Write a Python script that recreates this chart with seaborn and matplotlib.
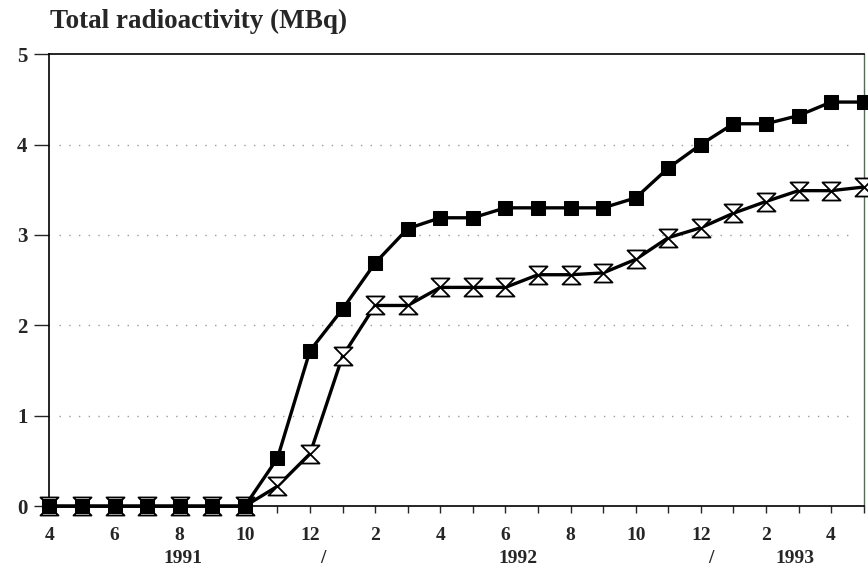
import matplotlib
matplotlib.use("Agg")
import matplotlib.pyplot as plt
import seaborn as sns
import pandas as pd
from matplotlib.path import Path

# Monthly values, April 1991 .. May 1993
months = list(range(26))
series_square = [0, 0, 0, 0, 0, 0, 0, 0.53, 1.72, 2.18, 2.69, 3.07, 3.19, 3.19,
                 3.30, 3.30, 3.30, 3.30, 3.41, 3.74, 4.00, 4.23, 4.23, 4.32, 4.47, 4.47]
series_hourglass = [0, 0, 0, 0, 0, 0, 0, 0.22, 0.58, 1.66, 2.22, 2.22, 2.42, 2.42,
                    2.42, 2.56, 2.56, 2.58, 2.73, 2.97, 3.08, 3.24, 3.37, 3.49, 3.49, 3.53]
tick_labels = ['4', '6', '8', '10', '12', '2', '4', '6', '8', '10', '12', '2', '4']
year_labels = ['1991', '/', '1992', '/', '1993']
y_ticks = [0, 1, 2, 3, 4, 5]
title = 'Total radioactivity (MBq)'

sns.set_style("white")
plt.rcParams['font.family'] = ['Liberation Serif', 'DejaVu Serif']

df_sq = pd.DataFrame({'month': months, 'value': series_square})
df_hg = pd.DataFrame({'month': months, 'value': series_hourglass})

fig = plt.figure(figsize=(8.68, 5.70), dpi=100)
ax = fig.add_axes([0.057, 0.112, 0.938, 0.793])

hourglass = Path([(-1, 1), (1, 1), (-1, -1), (1, -1), (-1, 1)],
                 [Path.MOVETO, Path.LINETO, Path.LINETO, Path.LINETO, Path.CLOSEPOLY])

sns.lineplot(data=df_hg, x='month', y='value', ax=ax, color='black', lw=2.4,
             marker=hourglass, markersize=13, markerfacecolor='white',
             markeredgecolor='black', markeredgewidth=1.3, clip_on=False, zorder=3)
sns.lineplot(data=df_sq, x='month', y='value', ax=ax, color='black', lw=2.4,
             marker='s', markersize=10, markerfacecolor='black',
             markeredgecolor='black', clip_on=False, zorder=4)

ax.set_xlim(0, 25)
ax.set_ylim(0, 5)
ax.set_xlabel('')
ax.set_ylabel('')

ax.set_xticks(list(range(0, 25, 2)))
ax.set_xticklabels(tick_labels, fontsize=14, fontweight='bold')
ax.set_xticks(months, minor=True)
ax.tick_params(axis='x', which='both', direction='out', length=5, width=1,
               pad=10, bottom=True)
ax.set_yticks(y_ticks)
ax.set_yticklabels([str(v) for v in y_ticks], fontsize=15, fontweight='bold')
ax.tick_params(axis='y', direction='out', length=11, width=1, pad=5, left=True)

for v in [1, 2, 3, 4]:
    ax.axhline(v, xmin=0.012, xmax=0.985, color='#9a9a9a', lw=1.0,
               ls=(0, (1, 6)), zorder=1)

for side in ['left', 'bottom', 'top']:
    ax.spines[side].set_color('black')
    ax.spines[side].set_linewidth(1.2)
ax.spines['right'].set_color('#556b55')
ax.spines['right'].set_linewidth(1.0)

year_pos = [4.1, 8.4, 14.4, 20.3, 22.9]
for xp, lab in zip(year_pos, year_labels):
    ax.text(xp, -0.115, lab, transform=ax.get_xaxis_transform(), ha='center',
            va='center', fontsize=14, fontweight='bold')

fig.text(0.058, 0.962, title, fontsize=19.5, fontweight='bold', ha='left', va='center')

fig.savefig('out.png', dpi=100, facecolor='white')
